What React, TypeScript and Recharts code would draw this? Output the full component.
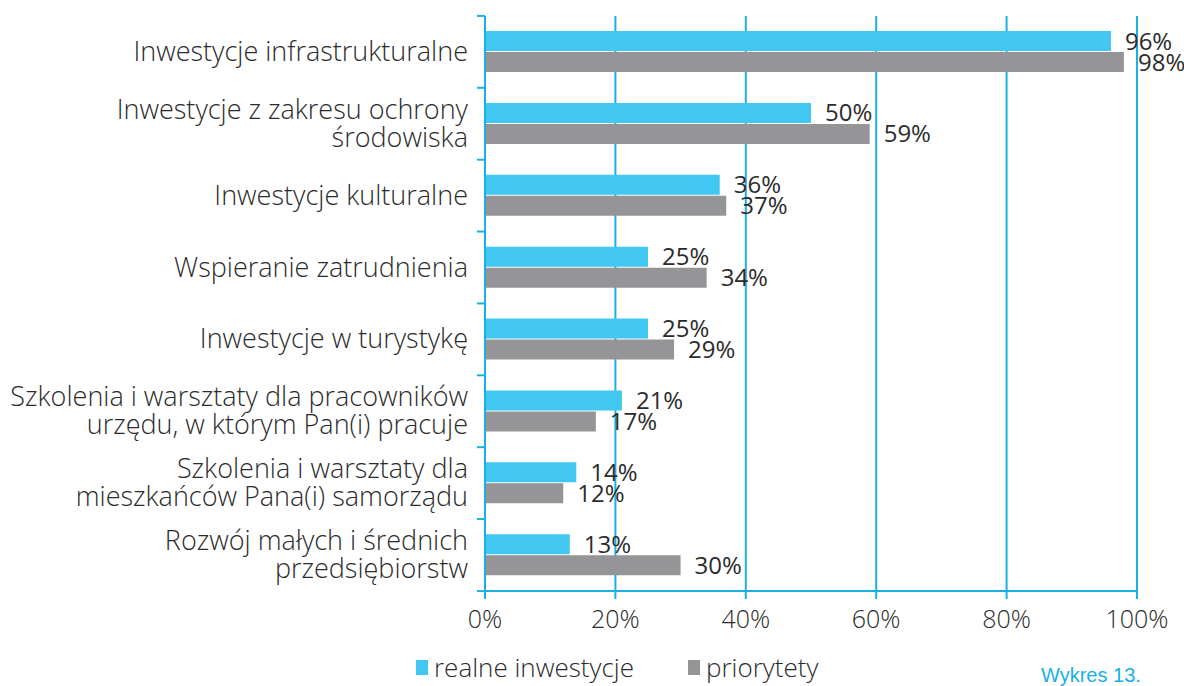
import { BarChart, Bar, XAxis, YAxis, CartesianGrid, LabelList } from "recharts"

const categories = [
  "Inwestycje infrastrukturalne",
  "Inwestycje z zakresu ochrony\nśrodowiska",
  "Inwestycje kulturalne",
  "Wspieranie zatrudnienia",
  "Inwestycje w turystykę",
  "Szkolenia i warsztaty dla pracowników\nurzędu, w którym Pan(i) pracuje",
  "Szkolenia i warsztaty dla\nmieszkańców Pana(i) samorządu",
  "Rozwój małych i średnich\nprzedsiębiorstw",
]
const realne = [96, 50, 36, 25, 25, 21, 14, 13]
const priorytety = [98, 59, 37, 34, 29, 17, 12, 30]
const xTicks = [0, 20, 40, 60, 80, 100]

const seriesNames = { realne: "realne inwestycje", priorytety: "priorytety" }

const BLUE = "#41c7f2"
const GRAY = "#959598"
const AXIS = "#1ab0e6"
const TEXT = "#2b2b2b"
const FONT = "'Open Sans', sans-serif"

const data = categories.map((name, i) => ({ name, realne: realne[i], priorytety: priorytety[i] }))

const BAND = 72

function CategoryTick(props: any) {
  const { x, y, payload, index } = props
  const lines = String(payload.value).split("\n")
  const lh = 28
  const start = -((lines.length - 1) * lh) / 2
  const ax = x + 17
  return (
    <g>
      <line x1={ax - 8} x2={ax} y1={y - BAND / 2} y2={y - BAND / 2} stroke={AXIS} strokeWidth={2} />
      {index === categories.length - 1 && (
        <line x1={ax - 8} x2={ax} y1={y + BAND / 2} y2={y + BAND / 2} stroke={AXIS} strokeWidth={2} />
      )}
      <text x={x} y={y} textAnchor="end" fill={TEXT} fontFamily={FONT} fontWeight={300} fontSize={27}>
        {lines.map((l, k) => (
          <tspan key={k} x={x} dy={k === 0 ? start + 9 : lh}>{l}</tspan>
        ))}
      </text>
    </g>
  )
}

function ChartLegend() {
  const items = [
    { label: seriesNames.realne, color: BLUE, left: 416 },
    { label: seriesNames.priorytety, color: GRAY, left: 688 },
  ]
  return (
    <>
      {items.map((it) => (
        <div
          key={it.label}
          style={{ position: "absolute", left: it.left, top: 652, display: "flex", alignItems: "center", gap: 6, height: 30 }}
        >
          <span style={{ display: "inline-block", width: 12, height: 15, background: it.color }} />
          <span
            style={{ fontFamily: FONT, fontWeight: 300, fontSize: 26, lineHeight: "30px", color: TEXT, whiteSpace: "nowrap" }}
          >
            {it.label}
          </span>
        </div>
      ))}
    </>
  )
}

export default function App() {
  return (
    <div style={{ position: "absolute", left: 0, top: 0, width: 1184, height: 686, background: "#fff", overflow: "hidden" }}>
      <BarChart
        width={1184}
        height={686}
        data={data}
        layout="vertical"
        margin={{ top: 16, right: 47, bottom: 60, left: 0 }}
        barSize={20}
        barGap={1}
      >
        <CartesianGrid horizontal={false} stroke={AXIS} strokeWidth={2} />
        <XAxis
          type="number"
          domain={[0, 100]}
          ticks={xTicks}
          tickFormatter={(v) => `${v}%`}
          axisLine={{ stroke: AXIS, strokeWidth: 2 }}
          tickLine={{ stroke: AXIS, strokeWidth: 2 }}
          tickSize={8}
          height={35}
          tick={{ fill: TEXT, fontFamily: FONT, fontWeight: 300, fontSize: 25 }}
          tickMargin={11}
        />
        <YAxis
          type="category"
          dataKey="name"
          width={485}
          axisLine={{ stroke: AXIS, strokeWidth: 2 }}
          tickLine={false}
          tickMargin={11}
          tick={<CategoryTick />}
          interval={0}
        />
        <Bar dataKey="realne" fill={BLUE} isAnimationActive={false}>
          <LabelList
            dataKey="realne"
            position="right"
            offset={14}
            formatter={(v: any) => `${v}%`}
            style={{ fill: TEXT, fontFamily: FONT, fontSize: 24 }}
          />
        </Bar>
        <Bar dataKey="priorytety" fill={GRAY} isAnimationActive={false}>
          <LabelList
            dataKey="priorytety"
            position="right"
            offset={14}
            formatter={(v: any) => `${v}%`}
            style={{ fill: TEXT, fontFamily: FONT, fontSize: 24 }}
          />
        </Bar>
      </BarChart>
      <ChartLegend />
      <div
        style={{
          position: "absolute",
          left: 1041,
          top: 664,
          fontFamily: "'Liberation Sans', Arial, sans-serif",
          fontSize: 20,
          color: AXIS,
        }}
      >
        Wykres 13.
      </div>
    </div>
  )
}
